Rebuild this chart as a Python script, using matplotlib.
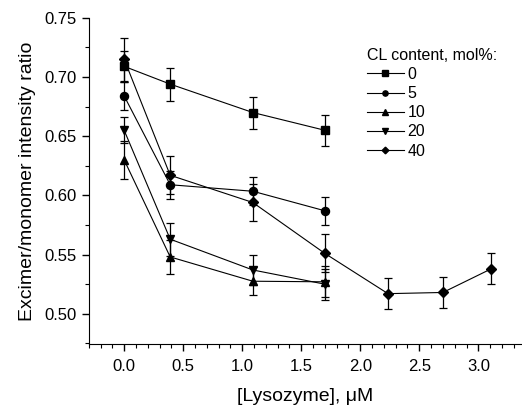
import matplotlib
matplotlib.use('Agg')
import matplotlib.pyplot as plt
import numpy as np
from matplotlib.ticker import MultipleLocator, FormatStrFormatter

plt.rcParams['font.family'] = ['Liberation Sans', 'DejaVu Sans']

# lysozyme concentration, uM
x_short = [0.0, 0.39, 1.09, 1.70]
x_long = [0.0, 0.39, 1.09, 1.70, 2.235, 2.70, 3.11]

cl_labels = ['0', '5', '10', '20', '40']
markers = ['s', 'o', '^', 'v', 'D']

ratio_0 = [0.709, 0.694, 0.670, 0.655]
ratio_5 = [0.684, 0.609, 0.6035, 0.587]
ratio_10 = [0.630, 0.548, 0.5275, 0.527]
ratio_20 = [0.655, 0.563, 0.537, 0.525]
ratio_40 = [0.715, 0.617, 0.594, 0.551, 0.517, 0.518, 0.538]

err_0 = [0.013, 0.014, 0.0135, 0.013]
err_5 = [0.012, 0.012, 0.012, 0.012]
err_10 = [0.016, 0.014, 0.012, 0.013]
err_20 = [0.011, 0.014, 0.013, 0.013]
err_40 = [0.018, 0.016, 0.016, 0.016, 0.013, 0.013, 0.013]

series = [(x_short, ratio_0, err_0), (x_short, ratio_5, err_5),
          (x_short, ratio_10, err_10), (x_short, ratio_20, err_20),
          (x_long, ratio_40, err_40)]

fig = plt.figure(figsize=(5.22, 4.05), dpi=100)
ax = fig.add_axes([0.170, 0.151, 0.830, 0.805])

for (xs, ys, es), m, lab in zip(series, markers, cl_labels):
    ms = 5.2 if m == 'D' else 5.8
    ax.errorbar(xs, ys, yerr=es, color='black', marker=m, markersize=ms,
                linewidth=0.8, elinewidth=0.9, capsize=3, capthick=0.9,
                label=lab)

ax.set_xlim(-0.3, 3.37)
ax.set_ylim(0.4746, 0.75)
ax.xaxis.set_major_locator(MultipleLocator(0.5))
ax.xaxis.set_minor_locator(MultipleLocator(0.1))
ax.yaxis.set_major_locator(MultipleLocator(0.05))
ax.yaxis.set_minor_locator(MultipleLocator(0.025))
ax.xaxis.set_major_formatter(FormatStrFormatter('%.1f'))
ax.yaxis.set_major_formatter(FormatStrFormatter('%.2f'))

ax.spines['top'].set_visible(False)
ax.spines['right'].set_visible(False)
ax.tick_params(which='major', length=5, width=1, labelsize=12, direction='out')
ax.tick_params(axis='x', which='major', pad=6)
ax.tick_params(which='minor', length=3, width=0.8, direction='out')

ax.set_xlabel('[Lysozyme], μM', fontsize=14, labelpad=10)
ax.set_ylabel('Excimer/monomer intensity ratio', fontsize=14, labelpad=6)

handles, labels = ax.get_legend_handles_labels()
handles = [h[0] for h in handles]
leg = fig.legend(handles, labels, title='CL content, mol%:', loc='upper left',
                 bbox_to_anchor=(0.703, 0.882), frameon=False, fontsize=11.5,
                 title_fontsize=11.5, handlelength=2.3, handletextpad=0.25,
                 labelspacing=0.26, markerscale=0.65, borderpad=0,
                 borderaxespad=0)
leg._legend_box.align = 'left'

fig.savefig('out.png', dpi=100)
